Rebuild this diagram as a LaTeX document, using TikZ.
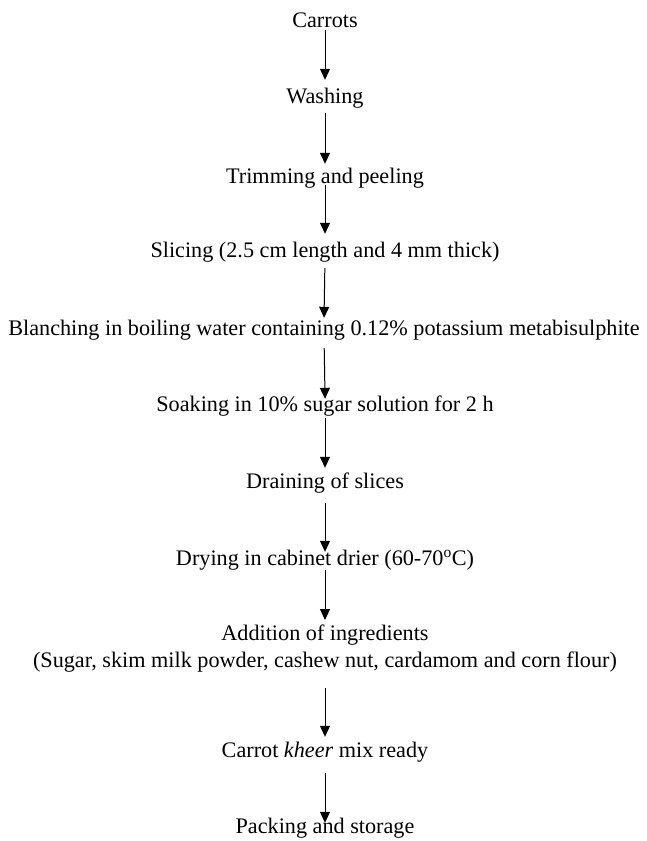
\documentclass[tikz,border=0pt]{standalone}
\usepackage{fontspec}
\setmainfont{Liberation Serif}
\usetikzlibrary{arrows.meta}
\tikzset{stage/.style={inner sep=0pt,anchor=base,text height=14.5pt,text depth=0pt,font=\fontsize{22.2}{27}\selectfont}}
\tikzset{stagenote/.style={inner sep=0pt,anchor=north,align=center,font=\fontsize{22.2}{27}\selectfont}}
\tikzset{flow/.style={draw,line width=1pt,-{Triangle[length=11pt,width=10pt]}}}

\begin{document}
\begin{tikzpicture}[x=1pt,y=-1pt]
    \useasboundingbox (0,0) rectangle (646,841);

    \node[stage] (carrots) at (325,27) {Carrots};
    \node[stage] (washing) at (325,103) {Washing};
    \node[stage] (trimming) at (325,183) {Trimming and peeling};
    \node[stage] (slicing) at (325,257) {Slicing (2.5 cm length and 4 mm thick)};
    \node[stage] (blanching) at (324,335) {Blanching in boiling water containing 0.12\% potassium metabisulphite};
    \node[stage] (soaking) at (325,411) {Soaking in 10\% sugar solution for 2 h};
    \node[stage] (draining) at (325,488) {Draining of slices};
    \node[stage] (drying) at (325,565) {Drying in cabinet drier (60-70\textsuperscript{o}C)};
    \node[stagenote] (addition) at (325,625) {Addition of ingredients\\(Sugar, skim milk powder, cashew nut, cardamom and corn flour)};
    \node[stage] (kheer) at (325,757) {Carrot \textit{kheer} mix ready};
    \node[stage] (packing) at (325,833) {Packing and storage};

    \foreach \a/\b/\s/\e in {carrots/washing/3pt/8.5pt, washing/trimming/10pt/4.5pt,
      trimming/slicing/2pt/8.5pt, slicing/blanching/11pt/2.5pt, blanching/soaking/13pt/-2.5pt,
      soaking/draining/7pt/5.5pt, draining/drying/15pt/-1.5pt, drying/addition/5pt/5pt,
      addition/kheer/15pt/5.5pt, kheer/packing/16pt/-4.5pt}{
      \draw[flow,shorten <=\s,shorten >=\e] (\a.south) -- (\b.north);
    }

\end{tikzpicture}
\end{document}
